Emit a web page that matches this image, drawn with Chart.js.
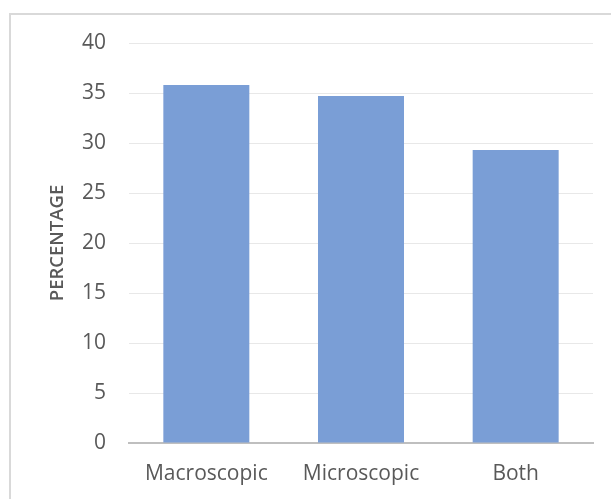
<!DOCTYPE html>
<html>
<head>
<meta charset="utf-8">
<script src="https://cdn.jsdelivr.net/npm/chart.js@4/dist/chart.umd.min.js"></script>
<style>
  html, body { margin: 0; padding: 0; background: #ffffff; }
  #wrap { position: relative; width: 611px; height: 499px; overflow: hidden; }
  #frame {
    position: absolute; left: 9px; top: 13px; width: 700px; height: 600px;
    border-left: 2px solid #d9d9d9; border-top: 2px solid #d9d9d9;
    box-sizing: border-box;
  }
  canvas { position: absolute; left: 0; top: 0; }
</style>
</head>
<body>
<div id="wrap">
  <div id="frame"></div>
  <canvas id="c" width="611" height="499"></canvas>
</div>
<script>
// Share of cases by type of examination
const categories = ['Macroscopic', 'Microscopic', 'Both'];
const percentages = [35.8, 34.7, 29.3];
const yTicks = [0, 5, 10, 15, 20, 25, 30, 35, 40];

const textGrey = '#595959';
const fontFamily = '"Open Sans", "Liberation Sans", sans-serif';

new Chart(document.getElementById('c'), {
  type: 'bar',
  data: {
    labels: categories,
    datasets: [{
      data: percentages,
      backgroundColor: 'rgb(122,158,214)',
      borderWidth: 0,
      categoryPercentage: 1.0,
      barPercentage: 0.556
    }]
  },
  options: {
    responsive: false,
    animation: false,
    devicePixelRatio: 1,
    layout: { padding: { top: 43, right: 18, bottom: 0, left: 0 } },
    plugins: { legend: { display: false }, tooltip: { enabled: false } },
    scales: {
      x: {
        grid: { display: false, drawTicks: false },
        border: { display: true, color: '#bfbfbf', width: 2 },
        ticks: { color: textGrey, font: { family: fontFamily, size: 21 }, padding: 18 },
        afterFit(scale) { scale.height = 56; }
      },
      y: {
        min: 0,
        max: 40,
        afterBuildTicks(scale) { scale.ticks = yTicks.map(v => ({ value: v })); },
        grid: { color: '#e8e8e8', lineWidth: 1, drawTicks: false },
        border: { display: false },
        ticks: { color: textGrey, font: { family: fontFamily, size: 21 }, padding: 23 },
        title: {
          display: true,
          text: 'PERCENTAGE',
          color: textGrey,
          font: { family: fontFamily, size: 18.5, weight: '600' },
          padding: { top: 47, bottom: 0 }
        },
        afterFit(scale) { scale.width = 129; }
      }
    }
  }
});
</script>
</body>
</html>
